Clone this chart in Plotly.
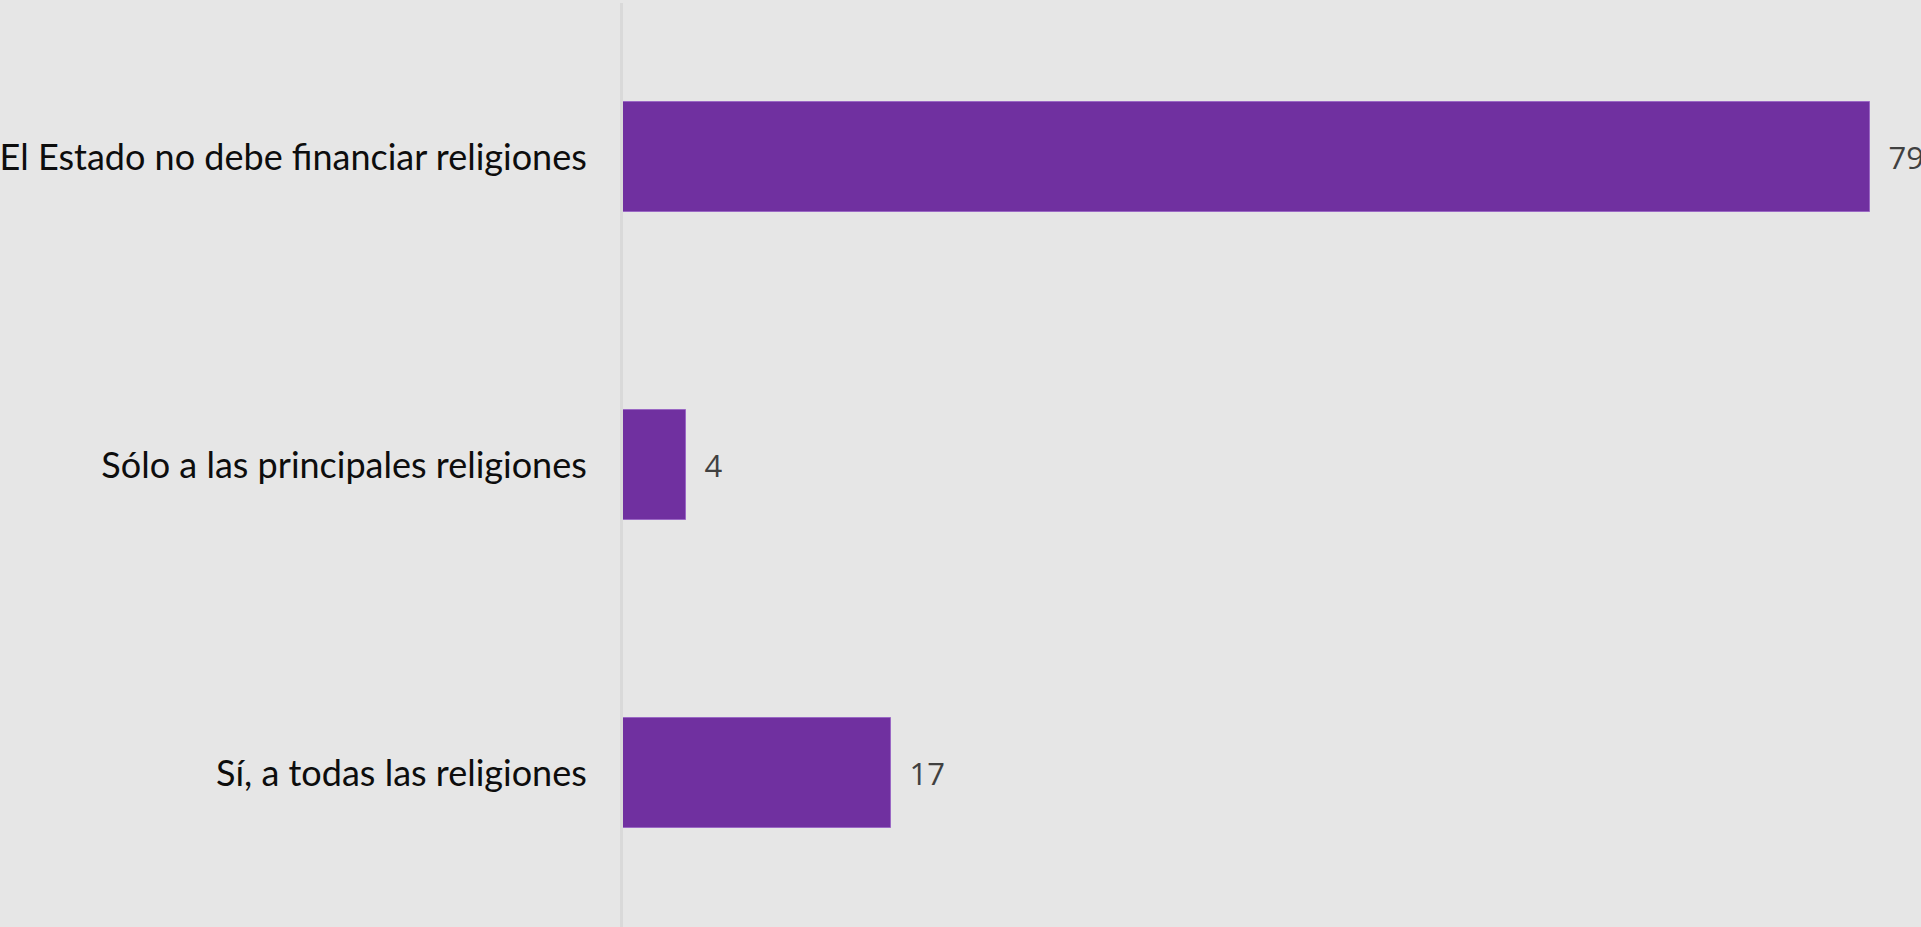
import plotly.graph_objects as go

categories = ["El Estado no debe financiar religiones",
              "Sólo a las principales religiones",
              "Sí, a todas las religiones"]
values = [79, 4, 17]
value_labels = ["79", "4", "17"]

fig = go.Figure(go.Bar(
    x=values,
    y=categories,
    orientation="h",
    marker=dict(color="#7030a0", line=dict(color="#9a68c4", width=1)),
    width=0.354,
    text=["\u00a0\u00a0" + t for t in value_labels],
    textposition="outside",
    cliponaxis=False,
    textfont=dict(family="Open Sans", size=31, color="#404040"),
    hoverinfo="skip",
))

fig.update_layout(
    width=1921, height=927,
    margin=dict(l=623, r=0, t=3, b=0, autoexpand=False),
    paper_bgcolor="#e6e6e6",
    plot_bgcolor="#e6e6e6",
    showlegend=False,
    bargap=0,
    xaxis=dict(range=[0, 82.2], showgrid=False, zeroline=False,
               showticklabels=False, showline=False, fixedrange=True),
    yaxis=dict(autorange="reversed", showgrid=False, zeroline=False,
               showline=True, linecolor="#d9d9d9", linewidth=3,
               ticks="", ticklabelstandoff=26, fixedrange=True,
               tickfont=dict(family="Lato", size=36, color="#0d0d0d")),
)

fig.write_html("out.html",
               config={"displayModeBar": False},
               post_script="document.body.style.margin='0';document.body.style.background='#e6e6e6';")
